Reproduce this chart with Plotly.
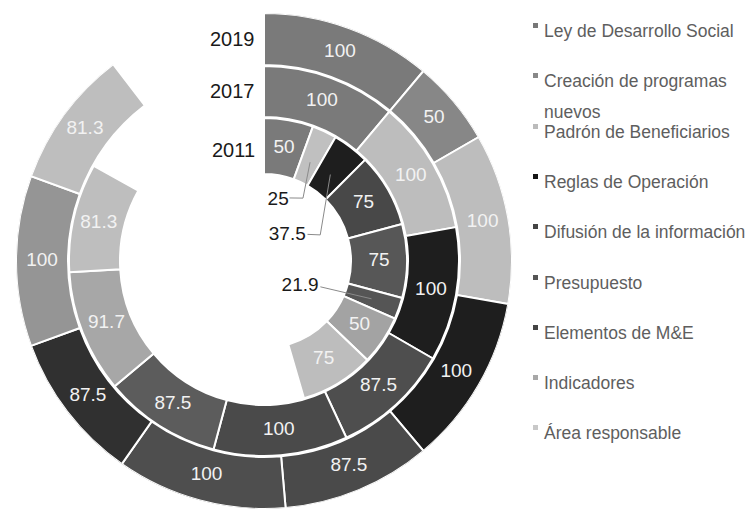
import math
import plotly.graph_objects as go

# ---------------- data ----------------
categories = [
    "Ley de Desarrollo Social",
    "Creación de programas nuevos",
    "Padrón de Beneficiarios",
    "Reglas de Operación",
    "Difusión de la información",
    "Presupuesto",
    "Elementos de M&E",
    "Indicadores",
    "Área responsable",
]
years = ["2011", "2017", "2019"]
values_2011 = [50, 0, 25, 37.5, 75, 75, 21.9, 50, 75]
values_2017 = [100, 0, 100, 100, 87.5, 100, 87.5, 91.7, 81.3]
values_2019 = [100, 50, 100, 100, 87.5, 100, 87.5, 100, 81.3]
series = [values_2011, values_2017, values_2019]
full_circle_total = 900  # 9 categories x 100 -> 360 degrees

# ---------------- styles ----------------
FONT = "Liberation Sans, Arial, Helvetica, sans-serif"
PAGE_OFF = 8                      # default body margin of the html page
W, H = 756 - PAGE_OFF, 510 - PAGE_OFF
CX, CY, R = 264, 261, 248         # target pixel centre (page coords) and outer radius


def px(x):
    return (x - PAGE_OFF) / W


def py(y):
    return 1 - (y - PAGE_OFF) / H


ring_base = [87, 144, 196]
ring_thick = [56, 51, 52]
ring_colors = [
    ["#7a7a7a", "#878787", "#c0c0c0", "#1e1e1e", "#484848", "#575757", "#555555", "#a3a3a3", "#bdbdbd"],
    ["#7a7a7a", "#878787", "#bdbdbd", "#1e1e1e", "#4e4e4e", "#4a4a4a", "#5c5c5c", "#a7a7a7", "#bebebe"],
    ["#7a7a7a", "#878787", "#bdbdbd", "#1e1e1e", "#4a4a4a", "#4e4e4e", "#303030", "#959595", "#bebebe"],
]
legend_colors = ["#777777", "#888888", "#bbbbbb", "#151515", "#444444", "#555555", "#444444", "#a8a8a8", "#c8c8c8"]
legend_rows = [31, 81, 132, 182, 232, 283, 333, 383, 433]
legend_wrap = {1: ("Creación de programas", "nuevos", 31)}
# outside labels for thin segments: category index -> (label anchor (r, theta), optional elbow (r, theta))
leaders = {
    2: ((66, 22.0), (74, 31.8)),
    3: ((49, 58.5), (62, 65.1)),
    6: ((60, 114.6), None),
}
deg_per_unit = 360.0 / full_circle_total

fig = go.Figure()
bar_traces, text_traces = [], []

for ri, vals in enumerate(series):
    thetas, widths, rs, bases, cols = [], [], [], [], []
    lab_t, lab_r, lab_txt = [], [], []
    start = 0.0
    for ci, v in enumerate(vals):
        w = v * deg_per_unit
        if v > 0:
            mid = start + w / 2
            thetas.append(mid)
            widths.append(w)
            rs.append(ring_thick[ri])
            bases.append(ring_base[ri])
            cols.append(ring_colors[ri][ci])
            rmid = ring_base[ri] + ring_thick[ri] / 2
            if ci in leaders and ri == 0:
                (ar, at), elbow = leaders[ci]
                if elbow:
                    pr, pt = [ar + 2, elbow[0], rmid - 6], [at, elbow[1], mid]
                else:
                    pr, pt = [ar + 2, rmid - 1], [at, mid]
                text_traces.append(go.Scatterpolar(
                    r=pr, theta=pt, mode="lines",
                    line=dict(color="#8a8a8a", width=1),
                    hoverinfo="skip", showlegend=False))
                text_traces.append(go.Scatterpolar(
                    r=[ar], theta=[at], mode="text", text=[f"{v:g}"],
                    textposition="middle left",
                    textfont=dict(family=FONT, size=19, color="#1a1a1a"),
                    hoverinfo="skip", showlegend=False))
            else:
                lab_t.append(mid)
                lab_r.append(rmid)
                lab_txt.append(f"{v:g}")
        start += w
    bar_traces.append(go.Barpolar(
        theta=thetas, width=widths, r=rs, base=bases,
        marker=dict(color=cols, line=dict(color="white", width=2)),
        hoverinfo="skip", showlegend=False))
    text_traces.append(go.Scatterpolar(
        r=lab_r, theta=lab_t, mode="text", text=lab_txt,
        textposition="middle center",
        textfont=dict(family=FONT, size=19, color="#f2f2f2"),
        hoverinfo="skip", showlegend=False))

for t in bar_traces + text_traces:
    fig.add_trace(t)

annotations = []
# year labels
for ri, y in enumerate(years):
    rmid = ring_base[ri] + ring_thick[ri] / 2
    annotations.append(dict(
        x=px(CX - 7), y=py(CY - rmid + (4 if ri == 0 else 0)),
        xref="paper", yref="paper", xanchor="right", yanchor="middle",
        text=y, showarrow=False,
        font=dict(family=FONT, size=20, color="#1a1a1a")))

# legend
shapes = []
for ci, name in enumerate(categories):
    row = legend_rows[ci]
    if ci in legend_wrap:
        l1, l2, gap = legend_wrap[ci]
        lines = [(l1, row), (l2, row + gap)]
    else:
        lines = [(name, row)]
    for txt, yy in lines:
        annotations.append(dict(
            x=px(542), y=py(yy), xref="paper", yref="paper",
            xanchor="left", yanchor="middle", text=txt, showarrow=False,
            font=dict(family=FONT, size=17.5, color="#5e5e5e")))
    shapes.append(dict(
        type="rect", xref="paper", yref="paper",
        x0=px(533), x1=px(538), y0=py(row - 3), y1=py(row - 8),
        fillcolor=legend_colors[ci], line=dict(width=0)))

fig.update_layout(
    width=W, height=H, autosize=False,
    margin=dict(l=0, r=0, t=0, b=0),
    paper_bgcolor="white", plot_bgcolor="white",
    showlegend=False,
    polar=dict(
        domain=dict(x=[px(CX - R), px(CX + R)], y=[py(CY + R), py(CY - R)]),
        bgcolor="white",
        radialaxis=dict(range=[0, R], visible=False, showgrid=False),
        angularaxis=dict(visible=False, showgrid=False, rotation=90, direction="clockwise"),
        barmode="overlay",
    ),
    annotations=annotations,
    shapes=shapes,
)

fig.write_html("out.html")
